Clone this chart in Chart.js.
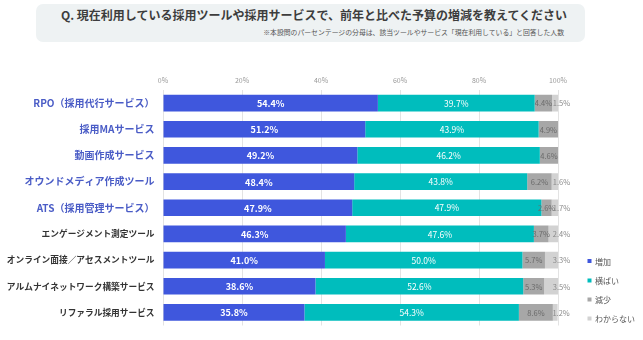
<!DOCTYPE html>
<html>
<head>
<meta charset="utf-8">
<script src="https://cdn.jsdelivr.net/npm/chart.js@4.4.0/dist/chart.umd.min.js"></script>
<style>
  html, body { margin: 0; padding: 0; background: #ffffff; }
  #wrap { position: relative; width: 643px; height: 340px; font-family: "Noto Sans CJK JP", "Noto Sans", sans-serif; }
  #box { position: absolute; left: 36px; top: 4px; width: 549px; height: 38px; background: #eef2f3; border-radius: 7px; }
  #title { position: absolute; left: 36px; width: 556px; top: 7px; text-align: center; font-size: 12px; font-weight: bold; color: #3d3d3d; line-height: 16px; white-space: nowrap; }
  #sub { position: absolute; right: 79px; top: 28px; font-size: 6.85px; color: #555; line-height: 9px; white-space: nowrap; }
  canvas { position: absolute; left: 0; top: 0; }
</style>
</head>
<body>
<div id="wrap">
  <div id="box"></div>
  <div id="title">Q. 現在利用している採用ツールや採用サービスで、前年と比べた予算の増減を教えてください</div>
  <div id="sub">※本設問のパーセンテージの分母は、該当ツールやサービス「現在利用している」と回答した人数</div>
  <canvas id="c" width="643" height="340"></canvas>
</div>
<script>
const categories = [
  "RPO（採用代行サービス）",
  "採用MAサービス",
  "動画作成サービス",
  "オウンドメディア作成ツール",
  "ATS（採用管理サービス）",
  "エンゲージメント測定ツール",
  "オンライン面接／アセスメントツール",
  "アルムナイネットワーク構築サービス",
  "リファラル採用サービス"
];
const seriesNames = ["増加", "横ばい", "減少", "わからない"];
const increase = [54.4, 51.2, 49.2, 48.4, 47.9, 46.3, 41.0, 38.6, 35.8];
const flat     = [39.7, 43.9, 46.2, 43.8, 47.9, 47.6, 50.0, 52.6, 54.3];
const decrease = [4.4, 4.9, 4.6, 6.2, 2.6, 3.7, 5.7, 5.3, 8.6];
const unknown  = [1.5, null, null, 1.6, 1.7, 2.4, 3.3, 3.5, 1.2];
const xTicks = [0, 20, 40, 60, 80, 100];

const colors = ["#3f57dd", "#00bdbd", "#a7a7a7", "#d2d2d2"];
const FONT = '"Noto Sans CJK JP", "Noto Sans", sans-serif';

const labelPlugin = {
  id: 'barLabels',
  afterDatasetsDraw(chart) {
    const ctx = chart.ctx;
    ctx.save();
    ctx.textBaseline = 'middle';
    chart.data.datasets.forEach((ds, di) => {
      const meta = chart.getDatasetMeta(di);
      meta.data.forEach((el, i) => {
        const v = ds.data[i];
        if (v === null || v === undefined) return;
        const txt = v.toFixed(1) + '%';
        let x = (el.x + el.base) / 2;
        ctx.textAlign = 'center';
        if (di === 0) {
          ctx.font = 'bold 9px ' + FONT; ctx.fillStyle = '#ffffff';
        } else if (di === 1) {
          ctx.font = '8.5px ' + FONT; ctx.fillStyle = '#ffffff';
        } else if (di === 2) {
          ctx.font = '7.5px ' + FONT; ctx.fillStyle = '#6a6a6a';
        } else {
          ctx.font = '7.5px ' + FONT; ctx.fillStyle = '#8a8a8a';
          x = Math.min(el.x, chart.chartArea.right) + 3.5;
        }
        ctx.fillText(txt, x, el.y + 0.5);
      });
    });
    ctx.restore();
  }
};

const legendPlugin = {
  id: 'sideLegend',
  afterDraw(chart) {
    const ctx = chart.ctx;
    ctx.save();
    const ys = [261, 280.5, 299.5, 318.5];
    chart.data.datasets.forEach((ds, i) => {
      ctx.fillStyle = ds.backgroundColor;
      ctx.fillRect(587.5, ys[i] - 2, 4, 4);
      ctx.fillStyle = '#555555';
      ctx.font = '8px ' + FONT;
      ctx.textAlign = 'left';
      ctx.textBaseline = 'middle';
      ctx.fillText(ds.label, 595, ys[i] + 0.5);
    });
    ctx.restore();
  }
};

new Chart(document.getElementById('c'), {
  type: 'bar',
  data: {
    labels: categories,
    datasets: [
      { label: seriesNames[0], data: increase, backgroundColor: colors[0] },
      { label: seriesNames[1], data: flat, backgroundColor: colors[1] },
      { label: seriesNames[2], data: decrease, backgroundColor: colors[2] },
      { label: seriesNames[3], data: unknown, backgroundColor: colors[3] }
    ]
  },
  options: {
    indexAxis: 'y',
    responsive: false,
    animation: false,
    devicePixelRatio: 1,
    layout: { padding: { left: 0, right: 85, top: 0, bottom: 7 } },
    datasets: { bar: { barPercentage: 0.64, categoryPercentage: 1, borderWidth: 0 } },
    plugins: { legend: { display: false }, tooltip: { enabled: false } },
    scales: {
      x: {
        stacked: true,
        position: 'top',
        min: 0, max: 100,
        afterBuildTicks: (s) => { s.ticks = xTicks.map(v => ({ value: v })); },
        afterFit: (s) => { s.height = 90; },
        grid: { color: '#e3e3e3', lineWidth: 1, drawTicks: false },
        border: { display: false },
        ticks: {
          padding: 5,
          color: '#9a9a9a',
          font: { family: FONT, size: 7 },
          callback: (v) => v + '%'
        }
      },
      y: {
        stacked: true,
        afterFit: (s) => { s.width = 163; },
        grid: { display: false, drawTicks: false },
        border: { display: false },
        ticks: {
          autoSkip: false,
          padding: 8.5,
          color: (c) => c.index < 5 ? '#4a5cc6' : '#333333',
          font: (c) => c.index < 5
            ? { family: FONT, size: 10, weight: 'bold' }
            : { family: FONT, size: 8.7, weight: 'bold' }
        }
      }
    }
  },
  plugins: [labelPlugin, legendPlugin]
});
</script>
</body>
</html>
